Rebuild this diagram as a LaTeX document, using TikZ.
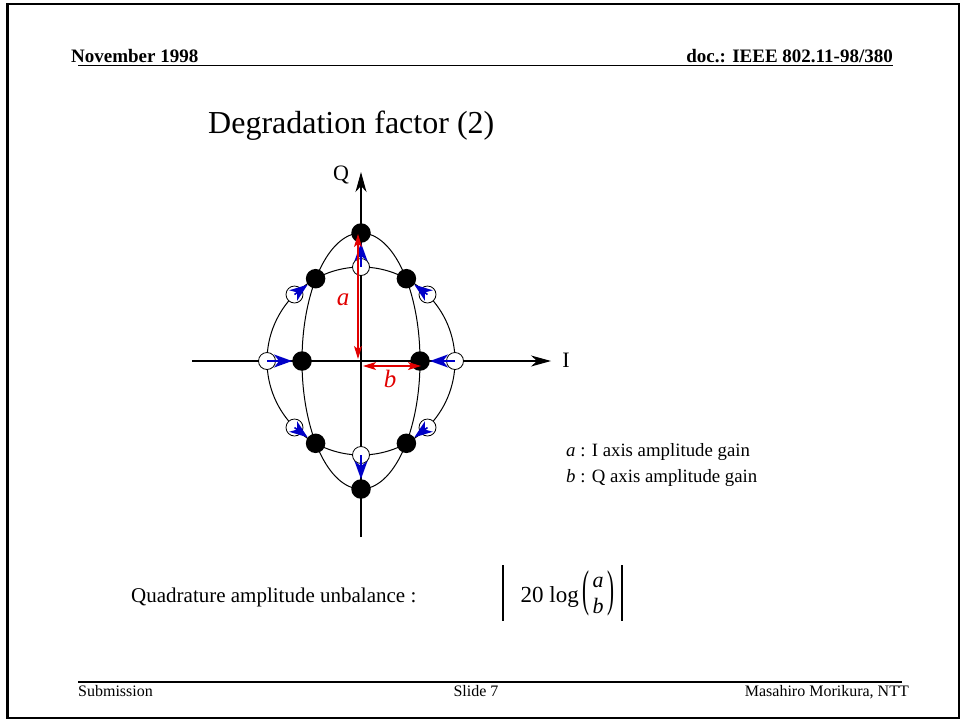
\documentclass[tikz,border=0pt]{standalone}
\usepackage{graphicx}
\usepackage{fontspec}
\setmainfont{Liberation Serif}
\usetikzlibrary{arrows.meta}
\definecolor{myred}{RGB}{225,0,0}
\definecolor{myblue}{RGB}{0,0,200}
\newcommand{\fs}[1]{\fontsize{#1}{#1}\selectfont}
\begin{document}
\begin{tikzpicture}[x=1pt,y=-1pt,
  txt/.style={inner sep=0pt},
  ideal/.style={circle, draw, fill=white, minimum size=17pt, inner sep=0pt, line width=0.8pt},
  actual/.style={circle, fill=black, minimum size=19.5pt, inner sep=0pt},
  axisline/.style={line width=1.1pt, -{Stealth[length=20pt,width=11pt,inset=6pt]}},
  curveline/.style={line width=1pt},
  bluearr/.style={myblue, line width=1.6pt, -{Stealth[length=18pt,width=13pt,inset=5pt]}},
  redarr/.style={myred, line width=1.2pt, {Stealth[length=13pt,width=8pt,inset=3pt]}-{Stealth[length=13pt,width=8pt,inset=3pt]}},
  rule/.style={line width=1.4pt}
]
\useasboundingbox (0,0) rectangle (966,721);
% frame
\coordinate (f1) at (7.5,4);
\coordinate (f2) at (959,718);
\draw[line width=2.5pt] (f1) rectangle (f2);

% header
\node[txt, anchor=base west, font=\fs{19}\bfseries] (date) at (71,62) {November 1998};
\node[txt, anchor=base east, font=\fs{19}\bfseries] (doc) at (893,62) {doc.: IEEE 802.11-98/380};
\coordinate (hl) at (78,65.5);
\coordinate (hr) at (893,65.5);
\draw[rule] (hl) -- (hr);

% footer
\coordinate (fl) at (78,682);
\coordinate (fr) at (902,682);
\draw[rule, line width=1.7pt] (fl) -- (fr);
\node[txt, anchor=base west, font=\fs{16}] (sub) at (78,696) {Submission};
\node[txt, anchor=base, font=\fs{16}] (slide) at (476,696) {Slide 7};
\node[txt, anchor=base east, font=\fs{16}] (auth) at (909,696) {Masahiro Morikura, NTT};

% title
\node[txt, anchor=base west, font=\fs{32}] (title) at (208,133) {Degradation factor (2)};

% constellation geometry
\coordinate (O) at (361,361);
\draw[curveline] (O) circle[radius=94];
\draw[curveline] (O) ellipse[x radius=59, y radius=128];

% axes
\coordinate (qb) at (361,537);
\coordinate (qt) at (361,172);
\coordinate (il) at (192,361);
\coordinate (ir) at (551,361);
\draw[axisline] (qb) -- (qt);
\draw[axisline] (il) -- (ir);
\node[txt, font=\fs{22}] (Q) at (341,175) {Q};
\node[txt, font=\fs{22}] (I) at (566,360) {I};

% ideal points
\node[ideal] (w1) at (361,267) {};
\node[ideal] (w2) at (427.5,294.5) {};
\node[ideal] (w3) at (455,361) {};
\node[ideal] (w4) at (427.5,427.5) {};
\node[ideal] (w5) at (361,455) {};
\node[ideal] (w6) at (294.5,427.5) {};
\node[ideal] (w7) at (267,361) {};
\node[ideal] (w8) at (294.5,294.5) {};

% actual points
\node[actual] (b1) at (361,233) {};
\node[actual] (b2) at (406.4,278.7) {};
\node[actual] (b3) at (420,361) {};
\node[actual] (b4) at (406.4,443.3) {};
\node[actual] (b5) at (361,489) {};
\node[actual] (b6) at (315.6,443.3) {};
\node[actual] (b7) at (302,361) {};
\node[actual] (b8) at (315.6,278.7) {};

% displacement arrows
\foreach \i in {1,...,8} {
  \draw[bluearr] (w\i.center) -- (b\i);
}

% red measures
\coordinate (a1) at (358,359);
\coordinate (a2) at (358,234);
\draw[redarr] (a1) -- (a2);
\node[txt, myred, font=\fs{25}\itshape] (la) at (343,300) {a};
\coordinate (bb1) at (363,366);
\coordinate (bb2) at (421,366);
\draw[redarr] (bb1) -- (bb2);
\node[txt, myred, font=\fs{25}\itshape] (lb) at (390,379) {b};

% legend
\node[txt, anchor=base west, font=\fs{18.8}] (leg1) at (566,456) {{\itshape a} : I axis amplitude gain};
\node[txt, anchor=base west, font=\fs{18.8}] (leg2) at (566,482) {{\itshape b} : Q axis amplitude gain};

% quadrature
\node[txt, anchor=base west, font=\fs{21}] (quad) at (131,602) {Quadrature amplitude unbalance :};
\coordinate (bl1) at (503,565);
\coordinate (bl2) at (503,621);
\coordinate (br1) at (622,565);
\coordinate (br2) at (622,621);
\draw[line width=1.1pt] (bl1) -- (bl2);
\draw[line width=1.1pt] (br1) -- (br2);
\node[txt, anchor=base east, font=\fs{23}] (log) at (579,602) {20 log};
\node[txt, font=\fs{21}] (lp) at (586,593.5) {\scalebox{1}[2.4]{(}};
\node[txt, font=\fs{22}\itshape] (fa) at (598,582) {a};
\node[txt, font=\fs{22}\itshape] (fb) at (598,606) {b};
\node[txt, font=\fs{21}] (rp) at (611,593.5) {\scalebox{1}[2.4]{)}};
\end{tikzpicture}
\end{document}
